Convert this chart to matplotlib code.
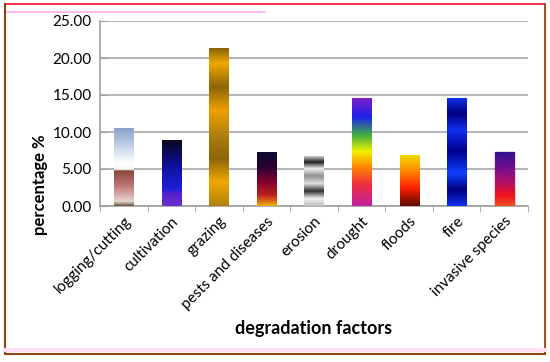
import numpy as np
import matplotlib
matplotlib.use("Agg")
import matplotlib.pyplot as plt
from matplotlib.colors import LinearSegmentedColormap
from matplotlib.lines import Line2D

categories = ["logging/cutting", "cultivation", "grazing", "pests and diseases",
              "erosion", "drought", "floods", "fire", "invasive species"]
values = [10.5, 8.9, 21.4, 7.25, 6.75, 14.6, 6.9, 14.6, 7.3]

# gradient colours, bottom -> top (position, colour)
gradients = [
    [(0, "#6a5040"), (0.06, "#e8d8d0"), (0.25, "#c07878"), (0.45, "#8b4a3a"),
     (0.47, "#f8f8f8"), (0.55, "#ffffff"), (0.75, "#c8d8ea"), (1, "#8aa0c8")],
    [(0, "#6a30c8"), (0.2, "#5020d0"), (0.25, "#2020d8"), (0.6, "#1010a0"),
     (0.85, "#0a0a50"), (1, "#0a0a20")],
    [(0, "#b08010"), (0.15, "#f0a800"), (0.3, "#8b6508"), (0.45, "#b08010"),
     (0.6, "#f0a000"), (0.75, "#8b6508"), (0.9, "#f0a800"), (1, "#806008")],
    [(0, "#f0b000"), (0.2, "#c02020"), (0.45, "#800030"), (0.7, "#300030"), (1, "#0a0a30")],
    [(0, "#c0c0c0"), (0.15, "#f0f0f0"), (0.3, "#303030"), (0.45, "#e0e0e0"),
     (0.6, "#909090"), (0.75, "#f0f0f0"), (0.88, "#202020"), (1, "#d0d0d0")],
    [(0, "#c020a0"), (0.2, "#f03040"), (0.35, "#ff8000"), (0.5, "#f0f000"),
     (0.65, "#40b040"), (0.82, "#2020f0"), (1, "#8020c0")],
    [(0, "#601000"), (0.12, "#901000"), (0.35, "#ff2000"), (0.7, "#ff9000"), (1, "#f0e000")],
    [(0, "#1030f0"), (0.15, "#000080"), (0.3, "#1040ff"), (0.5, "#000090"),
     (0.7, "#1030f0"), (0.85, "#000080"), (1, "#1030f0")],
    [(0, "#f05020"), (0.2, "#f01020"), (0.45, "#b01070"), (0.7, "#701090"), (1, "#301090")],
]

plt.rcParams['font.family'] = ['Lato', 'DejaVu Sans']
fig = plt.figure(figsize=(5.5, 3.62), dpi=100)
ax = fig.add_axes([100/550, 1-206/362, 428/550, 185/362])

x = np.arange(len(categories))
bars = ax.bar(x, values, width=0.4, color="none", edgecolor="none", zorder=3)
for b, cols in zip(bars, gradients):
    cmap = LinearSegmentedColormap.from_list("g", cols)
    grad = np.linspace(0, 1, 256).reshape(-1, 1)
    x0, w, h = b.get_x(), b.get_width(), b.get_height()
    im = ax.imshow(grad, cmap=cmap, origin="lower", aspect="auto",
                   extent=[x0, x0 + w, 0, h], zorder=3)
    im.set_clip_path(b)
bars[-1].set_edgecolor("#8b4513")
bars[-1].set_linewidth(1)

ax.set_xlim(-0.5, len(categories) - 0.5)
ax.set_ylim(0, 25)
ax.set_yticks(np.arange(0, 26, 5))
ax.set_yticklabels([f"{v:.2f}" for v in np.arange(0, 26, 5)], fontsize=11)
ax.yaxis.grid(True, color="#a8a8a8", linewidth=1.2, zorder=0)
ax.set_axisbelow(True)

ax.set_xticks(x)
ax.set_xticklabels(categories, rotation=45, ha="right", rotation_mode="anchor", fontsize=11)
ax.tick_params(axis="x", length=0, pad=6)
ax.set_xticks(np.arange(-0.5, len(categories)), minor=True)
ax.tick_params(axis="x", which="minor", length=4, color="#a0a0a0", direction="out")
ax.tick_params(axis="y", length=5, color="#a0a0a0", direction="in", pad=6)

for s in ["top", "right"]:
    ax.spines[s].set_visible(False)
for s in ["left", "bottom"]:
    ax.spines[s].set_color("#a0a0a0")
    ax.spines[s].set_linewidth(1.2)

ax.set_ylabel("percentage %", fontsize=12, fontweight="bold")
ax.yaxis.set_label_coords(-0.122, 0.113)
ax.set_xlabel("degradation factors", fontsize=13, fontweight="bold", labelpad=6)

# outer frame
fig.add_artist(Line2D([5/550, 545/550], [1-4/362, 1-4/362], color="#e8102a", lw=1.2))
fig.add_artist(Line2D([5/550, 265/550], [1-12/362, 1-12/362], color="#ffb0f0", lw=1.2))
fig.add_artist(Line2D([5/550, 5/550], [1-4/362, 1-353/362], color="#8b4513", lw=1.5))
fig.add_artist(Line2D([545/550, 545/550], [1-4/362, 1-353/362], color="#a0522d", lw=1.5))
fig.add_artist(Line2D([5/550, 545/550], [1-350/362, 1-350/362], color="#ffe0f4", lw=3))
fig.add_artist(Line2D([5/550, 545/550], [1-354/362, 1-354/362], color="#8b4513", lw=1.5))

fig.savefig("out.png", dpi=100)
